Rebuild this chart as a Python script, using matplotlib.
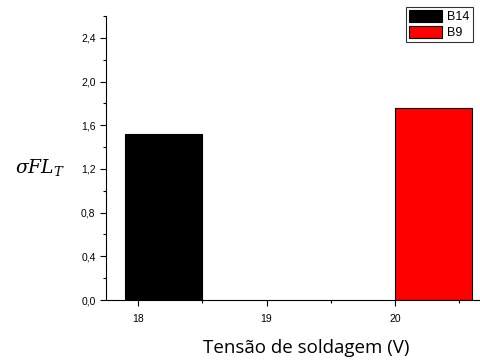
import numpy as np
import matplotlib
matplotlib.use("Agg")
import matplotlib.pyplot as plt
from matplotlib.ticker import MultipleLocator, FuncFormatter

# data
voltages = [18, 20]
series = ["B14", "B9"]
values = [1.52, 1.76]
colors = ["black", "red"]
bar_shift = [-0.1, 0.0]  # left edge offset of each bar (Origin-style grouping)
bar_width = 0.6

plt.rcParams["font.family"] = "Liberation Sans"
plt.rcParams["mathtext.fontset"] = "dejavuserif"

fig = plt.figure(figsize=(4.81, 3.63), dpi=100)
ax = fig.add_axes([106 / 481, 63 / 363, 375 / 481, 284 / 363])

for v, s, val, c, sh in zip(voltages, series, values, colors, bar_shift):
    ax.bar(v + sh, val, width=bar_width, align="edge", color=c,
           edgecolor="black", linewidth=0.8, label=s)

ax.set_xlim(17.75, 20.67)
ax.set_ylim(0, 2.6)

ax.spines["top"].set_visible(False)
ax.spines["right"].set_visible(False)
ax.spines["left"].set_linewidth(0.8)
ax.spines["bottom"].set_linewidth(0.8)

ax.xaxis.set_major_locator(MultipleLocator(1))
ax.xaxis.set_minor_locator(MultipleLocator(0.5))
ax.yaxis.set_major_locator(MultipleLocator(0.4))
ax.yaxis.set_minor_locator(MultipleLocator(0.2))
ax.yaxis.set_major_formatter(FuncFormatter(lambda y, p: f"{y:.1f}".replace(".", ",")))
ax.xaxis.set_major_formatter(FuncFormatter(lambda x, p: f"{x:.0f}"))
ax.tick_params(axis="both", which="major", length=4, width=0.8, labelsize=7.5, direction="out")
ax.tick_params(axis="both", which="minor", length=2.5, width=0.8, direction="out")
ax.tick_params(axis="x", pad=6)

fig.text(306 / 481, 15 / 363, "Tensão de soldagem (V)", fontsize=13.5,
         family="Open Sans", ha="center", va="center")
fig.text(15 / 481, 196 / 363, r"$\sigma FL_T$", fontsize=13.5, ha="left", va="center")

leg = ax.legend(loc="upper right", bbox_to_anchor=(473 / 481, 356 / 363),
                bbox_transform=fig.transFigure, fontsize=9, frameon=True,
                fancybox=False, edgecolor="black", handlelength=2.7,
                handleheight=1.1, borderpad=0.25, labelspacing=0.2,
                handletextpad=0.4, borderaxespad=0)
leg.get_frame().set_linewidth(0.8)

fig.savefig("out.png", dpi=100)
